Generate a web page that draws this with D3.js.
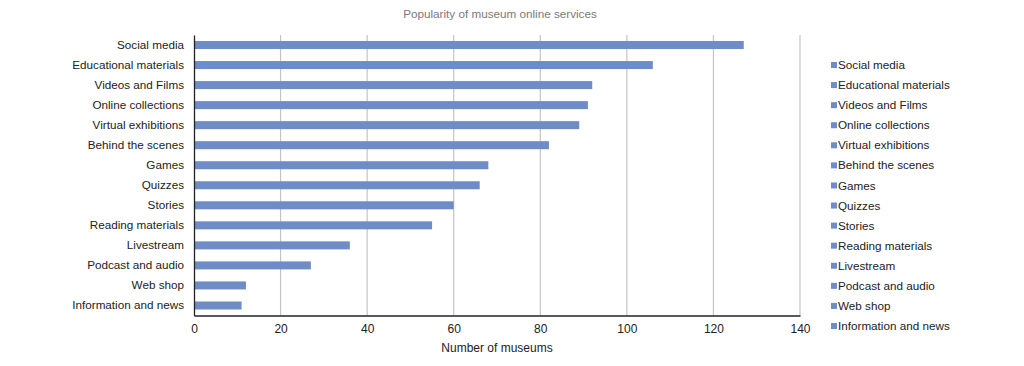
<!DOCTYPE html>
<html><head><meta charset="utf-8">
<script src="https://cdn.jsdelivr.net/npm/d3@7"></script>
<style>body{margin:0;background:#fff;}svg{display:block;font-family:"Liberation Sans",Arial,sans-serif;}</style>
</head><body>
<svg id="c" width="1024" height="366"></svg>
<script>
const categories = ["Social media","Educational materials","Videos and Films","Online collections","Virtual exhibitions","Behind the scenes","Games","Quizzes","Stories","Reading materials","Livestream","Podcast and audio","Web shop","Information and news"];
const values = [127,106,92,91,89,82,68,66,60,55,36,27,12,11];
const xTicks = [0,20,40,60,80,100,120,140];
const title = "Popularity of museum online services";
const xTitle = "Number of museums";

const svg = d3.select("#c");
const m = {left:194, right:800, top:35, bottom:315.5};
const x = d3.scaleLinear().domain([0,140]).range([m.left,m.right]);
const y = d3.scaleBand().domain(categories).range([m.top,m.bottom]).paddingInner(0.6).paddingOuter(0.3);
const barColor = "#6E8DC6";

svg.append("text").attr("x",500).attr("y",18).attr("text-anchor","middle")
  .attr("font-size",11.7).attr("fill","#7a7a7a").text(title);

// gridlines
svg.append("g").selectAll("line").data(xTicks.slice(1)).join("line")
  .attr("x1",d=>x(d)).attr("x2",d=>x(d)).attr("y1",m.top).attr("y2",m.bottom)
  .attr("stroke","#c4c4c4").attr("stroke-width",1.2);

// bars
svg.append("g").selectAll("rect").data(categories).join("rect")
  .attr("x",x(0)).attr("y",d=>y(d)).attr("height",y.bandwidth())
  .attr("width",(d,i)=>x(values[i])-x(0)).attr("fill",barColor);

// axes
const xAxis = d3.axisBottom(x).tickValues(xTicks).tickSize(0).tickPadding(9);
const gx = svg.append("g").attr("transform",`translate(0,${m.bottom})`).call(xAxis);
gx.select(".domain").attr("stroke","#222").attr("stroke-width",1.3);
gx.selectAll("text").attr("font-size",12).attr("fill","#222").attr("font-family","Liberation Sans, Arial, sans-serif");

const yAxis = d3.axisLeft(y).tickSize(0).tickPadding(10);
const gy = svg.append("g").attr("transform",`translate(${m.left},0)`).call(yAxis);
gy.select(".domain").attr("stroke","#222").attr("stroke-width",1.3);
gy.selectAll("text").attr("font-size",11.7).attr("fill","#222").attr("font-family","Liberation Sans, Arial, sans-serif");

svg.append("text").attr("x",497).attr("y",352).attr("text-anchor","middle")
  .attr("font-size",12).attr("fill","#222").text(xTitle);

// legend
const leg = svg.append("g");
const ly = d3.scalePoint().domain(categories).range([65,326]);
leg.selectAll("rect").data(categories).join("rect")
  .attr("x",831).attr("y",d=>ly(d)-3).attr("width",6).attr("height",6).attr("fill",barColor);
leg.selectAll("text").data(categories).join("text")
  .attr("x",838).attr("y",d=>ly(d)).attr("dy","0.35em")
  .attr("font-size",11.7).attr("fill","#222").text(d=>d);
</script>
</body></html>
